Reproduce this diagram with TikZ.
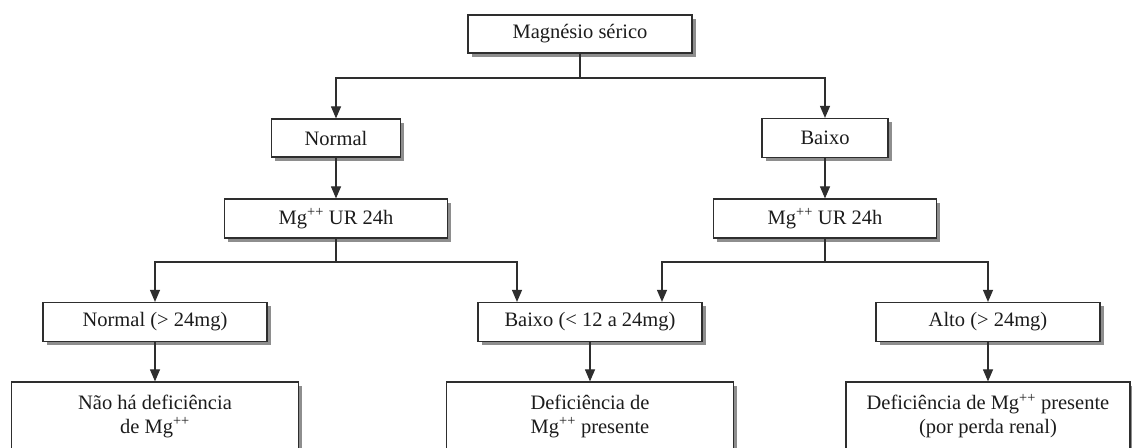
\documentclass[tikz,border=0pt]{standalone}
\usepackage{fontspec}
\setmainfont{Liberation Serif}
\usetikzlibrary{arrows.meta,shadows}
\definecolor{ink}{HTML}{2E2E2E}
\definecolor{shade}{HTML}{8E8E8E}
\definecolor{txt}{HTML}{1C1C1C}
\begin{document}
\begin{tikzpicture}[x=1pt,y=-1pt,
  box/.style={draw=ink,line width=1.2pt,fill=white,inner sep=0pt,align=center,
    font=\fontsize{20.5}{24}\selectfont,text=txt,
    drop shadow={shadow xshift=3.5pt,shadow yshift=-3.5pt,fill=shade,opacity=1}},
  arr/.style={draw=ink,line width=1.1pt,-{Triangle[length=12pt,width=10pt]}},
  ln/.style={draw=ink,line width=1.1pt}]
\useasboundingbox (0,0) rectangle (1132,447);
\fill[white] (0,0) rectangle (1132,447);

\node[box,minimum width=224pt,minimum height=38pt] (top) at (580,34) {Magnésio sérico};
\node[box,minimum width=129pt,minimum height=38pt] (nrm) at (336,138) {Normal};
\node[box,minimum width=126pt,minimum height=39pt] (bxo) at (825,138) {Baixo};
\node[box,minimum width=223pt,minimum height=39pt] (mgl) at (336,218.5) {Mg\textsuperscript{++} UR 24h};
\node[box,minimum width=223pt,minimum height=39pt] (mgr) at (825,218.5) {Mg\textsuperscript{++} UR 24h};
\node[box,minimum width=224pt,minimum height=39pt] (rn) at (155,322) {Normal (> 24mg)};
\node[box,minimum width=224pt,minimum height=39pt] (rb) at (590,322) {Baixo (< 12 a 24mg)};
\node[box,minimum width=224pt,minimum height=39pt] (ra) at (988,322) {Alto (> 24mg)};
\node[box,minimum width=287pt,minimum height=68pt] (dn) at (155,416) {Não há deficiência\\de Mg\textsuperscript{++}};
\node[box,minimum width=287pt,minimum height=68pt] (db) at (590,416) {Deficiência de\\Mg\textsuperscript{++} presente};
\node[box,minimum width=284pt,minimum height=68pt] (da) at (988,416) {Deficiência de Mg\textsuperscript{++} presente\\(por perda renal)};

\coordinate (h1) at (0,78);
\coordinate (h2) at (0,262);

\draw[ln] (top.south) -- (top.south |- h1);
\draw[arr] (top.south |- h1) -| (nrm.north);
\draw[arr] (top.south |- h1) -| (bxo.north);
\draw[arr] (nrm) -- (mgl);
\draw[arr] (bxo) -- (mgr);

\draw[ln] (mgl.south) -- (mgl.south |- h2);
\draw[arr] (mgl.south |- h2) -| (rn.north);
\draw[arr] (mgl.south |- h2) -| ([xshift=-73pt]rb.north);
\draw[ln] (mgr.south) -- (mgr.south |- h2);
\draw[arr] (mgr.south |- h2) -| ([xshift=72pt]rb.north);
\draw[arr] (mgr.south |- h2) -| (ra.north);

\draw[arr] (rn) -- (dn);
\draw[arr] (rb) -- (db);
\draw[arr] (ra) -- (da);
\end{tikzpicture}
\end{document}
